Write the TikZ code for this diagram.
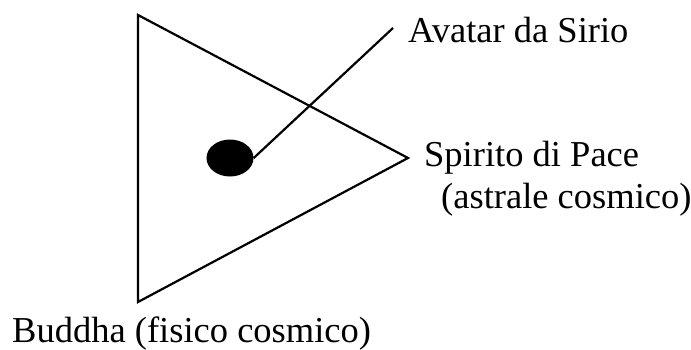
\documentclass[tikz,border=0pt]{standalone}
\usepackage{fontspec}
\setmainfont{Liberation Serif}
\usetikzlibrary{shapes.geometric}

\begin{document}
\begin{tikzpicture}[x=1pt, y=-1pt,
  font=\fontsize{36.5}{42}\selectfont,
  edge/.style={draw=black, line width=2.2pt},
  lbl/.style={anchor=base west, inner sep=0pt}]
\useasboundingbox (0,0) rectangle (691,349);
% triangle
\coordinate (top) at (138,15);
\coordinate (tip) at (408,158);
\coordinate (bot) at (138,302);
\draw[edge, line join=miter] (top) -- (tip) -- (bot) -- cycle;
% dot and pointer
\node[ellipse, fill=black, minimum width=47pt, minimum height=37pt, inner sep=0pt] (dot) at (230,158) {};
\coordinate (ptr) at (393,28);
\draw[edge] (dot.east) -- (ptr);
% labels
\node[lbl] (avatar) at (408,42) {Avatar da Sirio};
\node[lbl] (spirito) at (424,166) {Spirito di Pace};
\node[lbl] (astrale) at (441,208) {(astrale cosmico)};
\node[lbl] (buddha) at (12,342) {Buddha (fisico cosmico)};
\end{tikzpicture}
\end{document}
